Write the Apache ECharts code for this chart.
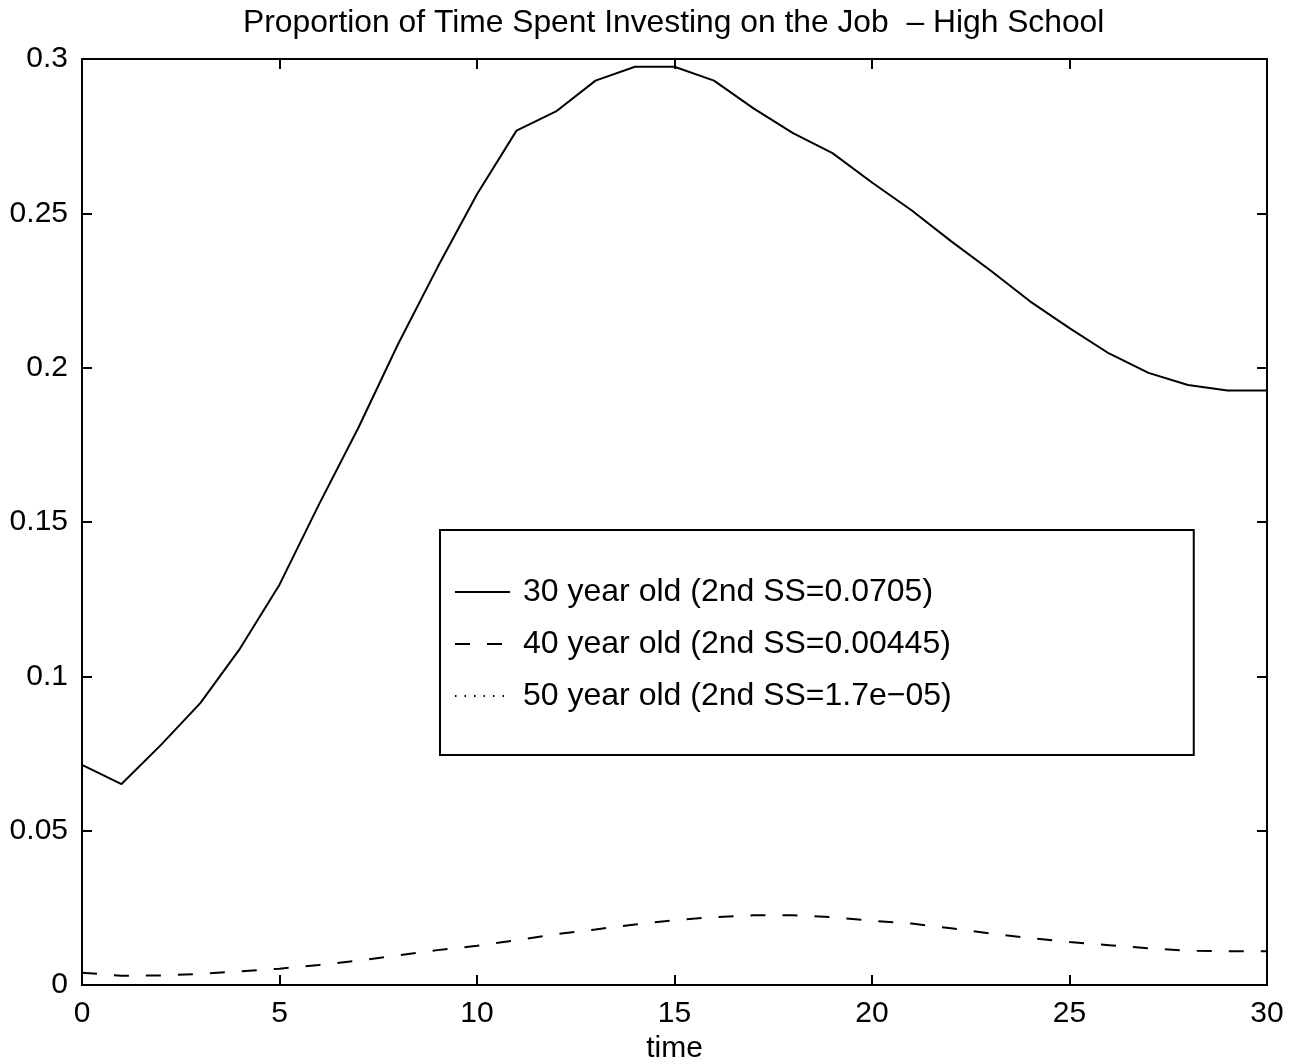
<!DOCTYPE html>
<html>
<head>
<meta charset="utf-8">
<script src="https://cdn.jsdelivr.net/npm/echarts@6/dist/echarts.min.js"></script>
<style>html,body{margin:0;padding:0;background:#fff;}#chart{width:1307px;height:1064px;}</style>
</head>
<body>
<div id="chart"></div>
<script>
const titleText = 'Proportion of Time Spent Investing on the Job  \u2013 High School';
const xAxisName = 'time';
const timeSteps = [0,1,2,3,4,5,6,7,8,9,10,11,12,13,14,15,16,17,18,19,20,21,22,23,24,25,26,27,28,29,30];
const seriesNames = ['30 year old (2nd SS=0.0705)','40 year old (2nd SS=0.00445)','50 year old (2nd SS=1.7e\u221205)'];
const age30 = [0.0713,0.0651,0.0778,0.0914,0.1090,0.1297,0.1557,0.1806,0.2076,0.2325,0.2562,0.2768,0.2830,0.2930,0.2975,0.2975,0.2930,0.2840,0.2760,0.2695,0.2600,0.2510,0.2410,0.2315,0.2215,0.2128,0.2046,0.1983,0.1944,0.1926,0.1926];
const age40 = [0.0040,0.0030,0.0031,0.0036,0.0044,0.0053,0.0065,0.0079,0.0096,0.0113,0.0127,0.0145,0.0165,0.0180,0.0196,0.0210,0.0220,0.0226,0.0226,0.0220,0.0208,0.0199,0.0184,0.0167,0.0152,0.0139,0.0129,0.0119,0.0111,0.0109,0.0109];
const age50 = [0.0001,0.0001,0.0001,0.0001,0.0001,0.0001,0.0001,0.0001,0.0001,0.0001,0.0001,0.0001,0.0001,0.0001,0.0001,0.0001,0.0001,0.0001,0.0001,0.0001,0.0001,0.0001,0.0001,0.0001,0.0001,0.0001,0.0001,0.0001,0.0001,0.0001,0.0001];

const FONT = 'Liberation Sans';
const pair = arr => timeSteps.map((t, i) => [t, arr[i]]);
const axisCommon = {
  type: 'value',
  axisLine: { show: true, onZero: false, lineStyle: { color: '#000', width: 2 } },
  axisTick: { show: true, inside: true, length: 10, lineStyle: { color: '#000', width: 2 } },
  splitLine: { show: false }
};
const chart = echarts.init(document.getElementById('chart'), null, { renderer: 'canvas' });
chart.setOption({
  backgroundColor: '#fff',
  animation: false,
  title: {
    text: titleText, left: 243, top: 7, padding: 0,
    textStyle: { fontFamily: FONT, fontSize: 31.8, fontWeight: 'normal', color: '#000' }
  },
  grid: { left: 82, right: 40, top: 59, bottom: 79, containLabel: false, outerBoundsMode: 'none' },
  xAxis: [
    Object.assign({}, axisCommon, {
      min: 0, max: 30, interval: 5, position: 'bottom',
      name: xAxisName, nameLocation: 'middle', nameGap: 46,
      nameTextStyle: { fontFamily: FONT, fontSize: 30, color: '#000' },
      axisLabel: { fontFamily: FONT, fontSize: 30, color: '#000', margin: 14 }
    }),
    Object.assign({}, axisCommon, {
      min: 0, max: 30, interval: 5, position: 'top', axisLabel: { show: false }
    })
  ],
  yAxis: [
    Object.assign({}, axisCommon, {
      min: 0, max: 0.3, interval: 0.05, position: 'left',
      axisLabel: { fontFamily: FONT, fontSize: 30, color: '#000', margin: 14 }
    }),
    Object.assign({}, axisCommon, {
      min: 0, max: 0.3, interval: 0.05, position: 'right', axisLabel: { show: false }
    })
  ],
  legend: {
    orient: 'vertical', left: 440, top: 530,
    padding: [46, 242, 43, 14],
    borderColor: '#000', borderWidth: 2,
    itemWidth: 55, itemHeight: 20, itemGap: 20,
    itemStyle: { opacity: 0 },
    textStyle: { fontFamily: FONT, fontSize: 32, lineHeight: 32, color: '#000', padding: [0, 0, 0, 8] },
    data: seriesNames
  },
  series: [
    { name: seriesNames[0], type: 'line', data: pair(age30), symbol: 'none',
      lineStyle: { color: '#000', width: 2, type: 'solid' }, itemStyle: { color: '#000' } },
    { name: seriesNames[1], type: 'line', data: pair(age40), symbol: 'none',
      lineStyle: { color: '#000', width: 2, type: [15, 17] }, itemStyle: { color: '#000' } },
    { name: seriesNames[2], type: 'line', data: pair(age50), symbol: 'none',
      lineStyle: { color: '#000', width: 1.5, type: [1.5, 8] }, itemStyle: { color: '#000' } }
  ]
});
</script>
</body>
</html>
